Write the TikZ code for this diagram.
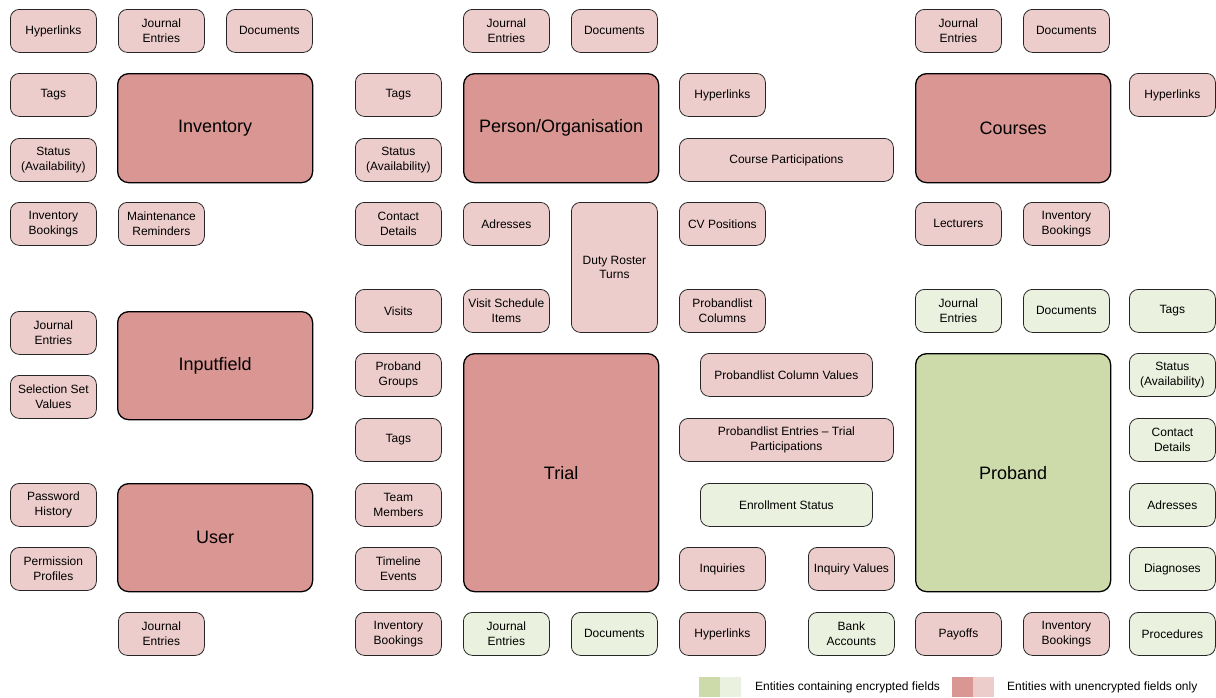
\documentclass[tikz,border=0pt]{standalone}
\usepackage{fontspec}
\setmainfont{Liberation Sans}
\definecolor{redbox}{RGB}{218,150,147}
\definecolor{redfield}{RGB}{236,205,203}
\definecolor{greenbox}{RGB}{205,219,170}
\definecolor{greenfield}{RGB}{235,241,223}

\begin{document}
\begin{tikzpicture}[x=1pt,y=-1pt,
  entity/.style={draw=black, line width=1.3pt, rounded corners=11pt, anchor=north west,
    inner sep=0pt, minimum width=195pt, font=\fontsize{18}{22}\selectfont},
  field/.style={draw=black!85, line width=0.8pt, rounded corners=9pt, anchor=north west,
    inner sep=0pt, minimum width=86pt, minimum height=43pt, align=center,
    font=\fontsize{12}{14.5}\selectfont},
  redf/.style={field, fill=redfield},
  greenf/.style={field, fill=greenfield},
  keybox/.style={anchor=north west, inner sep=0pt, minimum width=21pt, minimum height=20pt},
  keytext/.style={anchor=west, inner sep=0pt, font=\fontsize{12}{14.5}\selectfont}]
\useasboundingbox (0,0) rectangle (1216,697);

% Inventory
\node[entity, fill=redbox, minimum height=109pt] (inventory) at (117,73) {Inventory};
\node[redf] (invLinks) at (10,9) {Hyperlinks};
\node[redf] (invJournal) at (118,9) {Journal\\Entries};
\node[redf] (invDocs) at (226,9) {Documents};
\node[redf] (invTags) at (10,73) {Tags};
\node[redf] (invStatus) at (10,138) {Status\\(Availability)};
\node[redf] (invBookings) at (10,202) {Inventory\\Bookings};
\node[redf] (invReminders) at (118,202) {Maintenance\\Reminders};

% Inputfield
\node[entity, fill=redbox, minimum height=108pt] (inputfield) at (117,311) {Inputfield};
\node[redf] (ifJournal) at (10,311) {Journal\\Entries};
\node[redf] (ifValues) at (10,375) {Selection Set\\Values};

% User
\node[entity, fill=redbox, minimum height=108pt] (user) at (117,483) {User};
\node[redf] (userPwd) at (10,483) {Password\\History};
\node[redf] (userProfiles) at (10,547) {Permission\\Profiles};
\node[redf] (userJournal) at (118,612) {Journal\\Entries};

% Person/Organisation
\node[entity, fill=redbox, minimum height=109pt] (person) at (463,73) {Person/Organisation};
\node[redf] (persJournal) at (463,9) {Journal\\Entries};
\node[redf] (persDocs) at (571,9) {Documents};
\node[redf] (persTags) at (355,73) {Tags};
\node[redf] (persStatus) at (355,138) {Status\\(Availability)};
\node[redf] (persContact) at (355,202) {Contact\\Details};
\node[redf] (persAddr) at (463,202) {Adresses};
\node[redf, minimum height=130pt] (dutyRoster) at (571,202) {Duty Roster\\Turns};
\node[redf] (visits) at (355,289) {Visits};
\node[redf] (visitItems) at (463,289) {Visit Schedule\\Items};
\node[redf] (persLinks) at (679,73) {Hyperlinks};
\node[redf, minimum width=214pt] (courseParts) at (679,138) {Course Participations};
\node[redf] (cvPos) at (679,202) {CV Positions};
\node[redf] (plColumns) at (679,289) {Probandlist\\Columns};

% Trial
\node[entity, fill=redbox, minimum height=238pt] (trial) at (463,353) {Trial};
\node[redf] (trialGroups) at (355,353) {Proband\\Groups};
\node[redf] (trialTags) at (355,418) {Tags};
\node[redf] (trialTeam) at (355,483) {Team\\Members};
\node[redf] (trialTimeline) at (355,547) {Timeline\\Events};
\node[redf] (trialBookings) at (355,612) {Inventory\\Bookings};
\node[greenf] (trialJournal) at (463,612) {Journal\\Entries};
\node[greenf] (trialDocs) at (571,612) {Documents};
\node[redf, minimum width=172pt] (plValues) at (700,353) {Probandlist Column Values};
\node[redf, minimum width=214pt] (plEntries) at (679,418) {Probandlist Entries – Trial\\Participations};
\node[greenf, minimum width=172pt] (enrollment) at (700,483) {Enrollment Status};
\node[redf] (inquiries) at (679,547) {Inquiries};
\node[redf] (inqValues) at (808,547) {Inquiry Values};
\node[redf] (trialLinks) at (679,612) {Hyperlinks};
\node[greenf] (bankAccounts) at (808,612) {Bank\\Accounts};

% Courses
\node[entity, fill=redbox, minimum height=109pt] (courses) at (915,73) {Courses};
\node[redf] (courseJournal) at (915,9) {Journal\\Entries};
\node[redf] (courseDocs) at (1023,9) {Documents};
\node[redf] (courseLinks) at (1129,73) {Hyperlinks};
\node[redf] (lecturers) at (915,202) {Lecturers};
\node[redf] (courseBookings) at (1023,202) {Inventory\\Bookings};

% Proband
\node[entity, fill=greenbox, minimum height=238pt] (proband) at (915,353) {Proband};
\node[greenf] (probJournal) at (915,289) {Journal\\Entries};
\node[greenf] (probDocs) at (1023,289) {Documents};
\node[greenf] (probTags) at (1129,289) {Tags};
\node[greenf] (probStatus) at (1129,353) {Status\\(Availability)};
\node[greenf] (probContact) at (1129,418) {Contact\\Details};
\node[greenf] (probAddr) at (1129,483) {Adresses};
\node[greenf] (diagnoses) at (1129,547) {Diagnoses};
\node[greenf] (procedures) at (1129,612) {Procedures};
\node[redf] (payoffs) at (915,612) {Payoffs};
\node[redf] (probBookings) at (1023,612) {Inventory\\Bookings};

% legend
\node[keybox, fill=greenbox] (keyGreenDark) at (699,677) {};
\node[keybox, fill=greenfield] (keyGreenLight) at (720,677) {};
\node[keytext] (keyGreenText) at (755,687) {Entities containing encrypted fields};
\node[keybox, fill=redbox] (keyRedDark) at (952,677) {};
\node[keybox, fill=redfield] (keyRedLight) at (973,677) {};
\node[keytext] (keyRedText) at (1007,687) {Entities with unencrypted fields only};
\end{tikzpicture}
\end{document}
